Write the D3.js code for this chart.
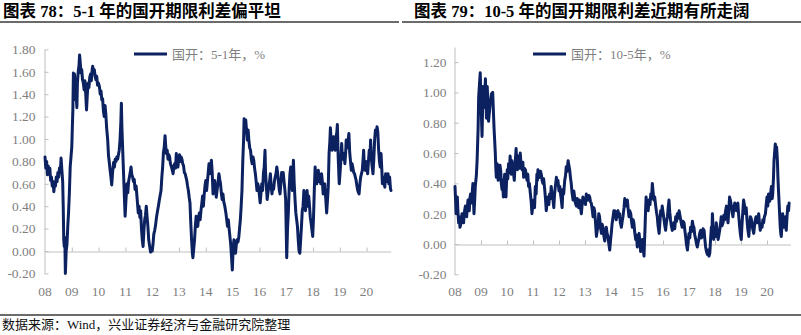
<!DOCTYPE html>
<html><head><meta charset="utf-8">
<script src="https://cdn.jsdelivr.net/npm/d3@7"></script>
<style>
body{margin:0;background:#fff;}
svg{display:block;}
</style></head><body>
<svg id="c" width="801" height="335"></svg>
<script>
// ---------- data ----------
const yearTicks = [2008,2009,2010,2011,2012,2013,2014,2015,2016,2017,2018,2019,2020];
const yearLabels = ["08","09","10","11","12","13","14","15","16","17","18","19","20"];
const yTicks51 = [-0.2,0,0.2,0.4,0.6,0.8,1.0,1.2,1.4,1.6,1.8];
const yTicks105 = [-0.2,0,0.2,0.4,0.6,0.8,1.0,1.2];
const titles = ["图表 78：5-1 年的国开期限利差偏平坦","图表 79：10-5 年的国开期限利差近期有所走阔"];
const legendNames = ["国开：5-1年，%","国开：10-5年，%"];
const sourceText = "数据来源：Wind，兴业证券经济与金融研究院整理";

// 国开 5-1年 spread, [year, %]
const spread51 = [
[2008.00,0.84],[2008.03,0.74],[2008.06,0.80],[2008.09,0.68],[2008.12,0.76],[2008.15,0.70],[2008.18,0.74],[2008.21,0.63],
[2008.24,0.66],[2008.27,0.58],[2008.30,0.62],[2008.33,0.53],[2008.36,0.60],[2008.39,0.58],[2008.42,0.66],[2008.45,0.62],
[2008.48,0.70],[2008.51,0.66],[2008.54,0.74],[2008.57,0.70],[2008.60,0.83],[2008.63,0.72],[2008.66,0.62],[2008.68,0.40],
[2008.70,0.10],[2008.72,0.04],[2008.74,0.12],[2008.76,-0.20],[2008.79,0.00],[2008.82,0.06],[2008.85,0.22],[2008.88,0.35],
[2008.91,0.52],[2008.94,0.75],[2008.97,0.84],[2009.00,0.93],[2009.02,1.10],[2009.04,1.26],[2009.06,1.59],[2009.08,1.35],
[2009.10,1.58],[2009.13,1.50],[2009.16,1.40],[2009.19,1.28],[2009.21,1.50],[2009.24,1.60],[2009.27,1.66],[2009.29,1.75],
[2009.31,1.70],[2009.34,1.59],[2009.37,1.62],[2009.40,1.53],[2009.43,1.50],[2009.46,1.44],[2009.49,1.52],[2009.52,1.40],
[2009.55,1.26],[2009.58,1.40],[2009.61,1.50],[2009.64,1.46],[2009.67,1.55],[2009.70,1.58],[2009.73,1.52],[2009.76,1.62],
[2009.78,1.65],[2009.81,1.60],[2009.84,1.62],[2009.87,1.56],[2009.90,1.53],[2009.93,1.56],[2009.96,1.48],[2009.99,1.50],
[2010.03,1.47],[2010.06,1.40],[2010.09,1.43],[2010.12,1.35],[2010.15,1.36],[2010.18,1.25],[2010.21,1.20],[2010.24,1.30],
[2010.27,1.22],[2010.30,1.10],[2010.34,0.99],[2010.37,0.85],[2010.40,0.79],[2010.43,0.72],[2010.46,0.66],[2010.49,0.59],
[2010.52,0.70],[2010.56,0.79],[2010.59,0.75],[2010.62,0.82],[2010.65,0.80],[2010.68,0.84],[2010.71,0.82],[2010.74,0.86],
[2010.77,0.90],[2010.80,0.99],[2010.83,1.15],[2010.85,1.32],[2010.87,1.10],[2010.90,0.90],[2010.93,0.70],[2010.96,0.50],
[2010.99,0.31],[2011.02,0.45],[2011.06,0.60],[2011.09,0.52],[2011.12,0.62],[2011.15,0.66],[2011.18,0.70],[2011.21,0.75],
[2011.24,0.68],[2011.27,0.66],[2011.30,0.62],[2011.33,0.64],[2011.36,0.55],[2011.40,0.58],[2011.44,0.46],[2011.48,0.34],
[2011.51,0.40],[2011.54,0.30],[2011.57,0.36],[2011.60,0.20],[2011.63,0.10],[2011.66,0.04],[2011.69,0.18],[2011.72,0.28],
[2011.75,0.32],[2011.78,0.40],[2011.81,0.30],[2011.84,0.22],[2011.87,0.10],[2011.90,0.05],[2011.94,-0.01],[2011.97,0.02],
[2012.00,0.00],[2012.03,0.06],[2012.06,0.15],[2012.09,0.18],[2012.12,0.22],[2012.16,0.30],[2012.20,0.36],[2012.23,0.40],
[2012.27,0.46],[2012.30,0.50],[2012.33,0.54],[2012.36,0.66],[2012.39,0.75],[2012.42,0.88],[2012.45,0.93],[2012.48,1.03],
[2012.50,0.95],[2012.53,0.87],[2012.56,0.90],[2012.59,0.82],[2012.62,0.86],[2012.65,0.84],[2012.68,0.78],[2012.72,0.75],
[2012.75,0.72],[2012.78,0.69],[2012.81,0.76],[2012.84,0.78],[2012.87,0.74],[2012.90,0.87],[2012.93,0.80],[2012.96,0.75],
[2012.99,0.82],[2013.02,0.86],[2013.05,0.80],[2013.08,0.84],[2013.11,0.82],[2013.14,0.78],[2013.17,0.76],[2013.20,0.70],
[2013.23,0.69],[2013.26,0.66],[2013.29,0.63],[2013.32,0.58],[2013.35,0.54],[2013.38,0.48],[2013.41,0.43],[2013.44,0.25],
[2013.47,0.10],[2013.50,-0.02],[2013.52,-0.06],[2013.55,0.02],[2013.58,0.10],[2013.61,0.22],[2013.64,0.31],[2013.67,0.25],
[2013.70,0.22],[2013.73,0.30],[2013.76,0.34],[2013.79,0.28],[2013.82,0.36],[2013.85,0.42],[2013.88,0.49],[2013.91,0.40],
[2013.94,0.50],[2013.97,0.58],[2014.00,0.63],[2014.03,0.54],[2014.06,0.62],[2014.09,0.70],[2014.12,0.78],[2014.15,0.69],
[2014.18,0.76],[2014.21,0.81],[2014.24,0.70],[2014.27,0.51],[2014.30,0.58],[2014.33,0.63],[2014.36,0.56],[2014.39,0.48],
[2014.42,0.54],[2014.46,0.62],[2014.49,0.69],[2014.52,0.64],[2014.55,0.60],[2014.58,0.52],[2014.61,0.46],[2014.64,0.51],
[2014.67,0.44],[2014.71,0.40],[2014.75,0.34],[2014.78,0.28],[2014.81,0.22],[2014.84,0.28],[2014.87,0.20],[2014.90,0.13],
[2014.93,0.06],[2014.96,-0.05],[2014.99,-0.17],[2015.02,0.02],[2015.05,0.10],[2015.08,0.04],[2015.11,-0.02],[2015.14,0.06],
[2015.17,0.10],[2015.20,0.08],[2015.23,0.12],[2015.26,0.20],[2015.29,0.28],[2015.32,0.40],[2015.35,0.54],[2015.38,0.80],
[2015.41,0.99],[2015.43,1.18],[2015.46,1.15],[2015.49,1.17],[2015.52,1.08],[2015.55,0.99],[2015.58,1.08],[2015.61,0.98],
[2015.64,0.92],[2015.67,0.90],[2015.70,0.82],[2015.73,0.78],[2015.76,0.84],[2015.79,0.81],[2015.82,0.74],[2015.85,0.69],
[2015.88,0.62],[2015.91,0.54],[2015.94,0.60],[2015.97,0.57],[2016.00,0.50],[2016.03,0.43],[2016.06,0.52],[2016.09,0.60],
[2016.12,0.54],[2016.15,0.69],[2016.18,0.75],[2016.21,0.90],[2016.23,0.70],[2016.26,0.58],[2016.29,0.46],[2016.32,0.52],
[2016.35,0.57],[2016.38,0.62],[2016.41,0.69],[2016.44,0.58],[2016.47,0.51],[2016.50,0.58],[2016.53,0.55],[2016.56,0.62],
[2016.59,0.66],[2016.62,0.69],[2016.65,0.75],[2016.68,0.70],[2016.71,0.62],[2016.74,0.55],[2016.77,0.51],[2016.80,0.60],
[2016.83,0.70],[2016.86,0.65],[2016.89,0.70],[2016.92,0.62],[2016.95,0.55],[2016.98,0.46],[2017.00,0.20],[2017.02,-0.06],
[2017.05,0.20],[2017.08,0.34],[2017.11,0.55],[2017.14,0.69],[2017.17,0.75],[2017.20,0.62],[2017.23,0.54],[2017.25,0.70],
[2017.27,0.81],[2017.30,0.60],[2017.33,0.46],[2017.36,0.34],[2017.39,0.28],[2017.42,0.22],[2017.45,0.10],[2017.48,0.00],
[2017.51,-0.02],[2017.54,0.10],[2017.57,0.22],[2017.60,0.36],[2017.63,0.40],[2017.66,0.54],[2017.69,0.44],[2017.72,0.36],
[2017.75,0.48],[2017.78,0.54],[2017.81,0.40],[2017.84,0.49],[2017.87,0.40],[2017.90,0.30],[2017.93,0.25],[2017.96,0.19],
[2017.99,0.13],[2018.02,0.30],[2018.05,0.55],[2018.08,0.75],[2018.11,0.65],[2018.14,0.60],[2018.17,0.66],[2018.20,0.72],
[2018.23,0.62],[2018.26,0.68],[2018.29,0.60],[2018.32,0.69],[2018.35,0.62],[2018.38,0.51],[2018.41,0.58],[2018.44,0.60],
[2018.47,0.49],[2018.51,0.34],[2018.54,0.45],[2018.57,0.57],[2018.60,0.87],[2018.63,0.98],[2018.65,1.10],[2018.68,0.98],
[2018.71,0.90],[2018.74,0.96],[2018.77,1.02],[2018.80,0.94],[2018.83,0.90],[2018.86,1.02],[2018.89,1.06],[2018.91,1.13],
[2018.94,0.84],[2018.98,0.60],[2019.01,0.70],[2019.04,0.81],[2019.07,0.96],[2019.10,0.82],[2019.13,0.84],[2019.16,0.87],
[2019.19,0.78],[2019.22,0.88],[2019.24,0.99],[2019.27,0.92],[2019.30,0.96],[2019.34,1.05],[2019.37,0.88],[2019.40,0.80],
[2019.43,0.72],[2019.46,0.78],[2019.49,0.74],[2019.52,0.70],[2019.55,0.69],[2019.58,0.66],[2019.61,0.63],[2019.64,0.58],
[2019.67,0.54],[2019.70,0.52],[2019.72,0.51],[2019.75,0.60],[2019.78,0.66],[2019.81,0.69],[2019.84,0.72],[2019.87,0.82],
[2019.89,0.90],[2019.92,0.74],[2019.95,0.72],[2019.98,0.80],[2020.01,0.74],[2020.04,0.69],[2020.07,0.80],[2020.10,0.90],
[2020.13,0.86],[2020.15,0.99],[2020.18,0.82],[2020.21,0.75],[2020.24,0.69],[2020.27,0.82],[2020.30,0.99],[2020.33,1.08],
[2020.36,1.05],[2020.39,1.11],[2020.42,1.06],[2020.45,0.90],[2020.48,0.80],[2020.51,0.75],[2020.54,0.87],[2020.57,0.72],
[2020.59,0.60],[2020.62,0.66],[2020.65,0.62],[2020.68,0.57],[2020.71,0.69],[2020.74,0.62],[2020.77,0.64],[2020.80,0.69],
[2020.83,0.60],[2020.86,0.66],[2020.89,0.56],[2020.91,0.54]
];

// 国开 10-5年 spread, [year, %]
const spread105 = [
[2008.00,0.38],[2008.02,0.30],[2008.04,0.20],[2008.06,0.26],[2008.09,0.31],[2008.11,0.22],[2008.14,0.14],[2008.17,0.18],
[2008.19,0.11],[2008.21,0.12],[2008.24,0.15],[2008.27,0.20],[2008.30,0.17],[2008.33,0.14],[2008.35,0.19],[2008.37,0.22],
[2008.40,0.25],[2008.42,0.20],[2008.45,0.18],[2008.47,0.24],[2008.50,0.29],[2008.52,0.25],[2008.55,0.22],[2008.57,0.30],
[2008.60,0.33],[2008.62,0.30],[2008.65,0.27],[2008.67,0.36],[2008.69,0.40],[2008.71,0.30],[2008.73,0.20],[2008.76,0.30],
[2008.78,0.38],[2008.82,0.45],[2008.85,0.55],[2008.89,0.77],[2008.91,0.97],[2008.94,1.05],[2008.97,1.13],[2009.01,0.88],
[2009.04,0.71],[2009.08,1.04],[2009.12,0.90],[2009.17,1.09],[2009.21,0.83],[2009.24,1.04],[2009.29,0.81],[2009.35,0.92],
[2009.40,0.99],[2009.45,1.00],[2009.50,0.77],[2009.55,0.60],[2009.57,0.50],[2009.59,0.44],[2009.62,0.53],[2009.64,0.51],
[2009.66,0.42],[2009.68,0.46],[2009.71,0.44],[2009.73,0.52],[2009.76,0.48],[2009.78,0.40],[2009.81,0.36],[2009.83,0.42],
[2009.86,0.31],[2009.88,0.38],[2009.91,0.46],[2009.93,0.40],[2009.96,0.31],[2009.98,0.40],[2010.01,0.49],[2010.03,0.43],
[2010.06,0.53],[2010.09,0.47],[2010.12,0.58],[2010.14,0.52],[2010.17,0.46],[2010.19,0.55],[2010.22,0.51],[2010.25,0.47],
[2010.28,0.42],[2010.31,0.52],[2010.35,0.63],[2010.37,0.55],[2010.40,0.49],[2010.42,0.58],[2010.45,0.55],[2010.48,0.50],
[2010.51,0.60],[2010.54,0.52],[2010.58,0.49],[2010.61,0.54],[2010.64,0.44],[2010.67,0.50],[2010.71,0.49],[2010.74,0.45],
[2010.77,0.42],[2010.80,0.46],[2010.83,0.38],[2010.86,0.40],[2010.90,0.33],[2010.93,0.28],[2010.96,0.20],[2010.99,0.25],
[2011.03,0.29],[2011.06,0.24],[2011.09,0.38],[2011.12,0.33],[2011.15,0.46],[2011.17,0.42],[2011.19,0.49],[2011.22,0.45],
[2011.26,0.44],[2011.29,0.48],[2011.32,0.46],[2011.35,0.42],[2011.38,0.40],[2011.41,0.43],[2011.45,0.36],[2011.48,0.30],
[2011.51,0.22],[2011.54,0.27],[2011.58,0.31],[2011.61,0.26],[2011.64,0.33],[2011.67,0.30],[2011.70,0.38],[2011.73,0.33],
[2011.77,0.29],[2011.80,0.24],[2011.83,0.33],[2011.86,0.38],[2011.90,0.44],[2011.93,0.40],[2011.96,0.42],[2012.00,0.35],
[2012.03,0.38],[2012.06,0.33],[2012.09,0.29],[2012.12,0.24],[2012.15,0.36],[2012.18,0.33],[2012.22,0.42],[2012.25,0.45],
[2012.28,0.51],[2012.31,0.48],[2012.35,0.55],[2012.38,0.52],[2012.41,0.49],[2012.44,0.44],[2012.47,0.40],[2012.50,0.34],
[2012.54,0.29],[2012.57,0.35],[2012.60,0.31],[2012.63,0.27],[2012.67,0.25],[2012.70,0.30],[2012.73,0.27],[2012.76,0.24],
[2012.79,0.29],[2012.82,0.25],[2012.86,0.20],[2012.89,0.26],[2012.92,0.31],[2012.95,0.27],[2012.99,0.29],[2013.02,0.26],
[2013.05,0.33],[2013.08,0.30],[2013.12,0.29],[2013.15,0.32],[2013.18,0.31],[2013.21,0.28],[2013.24,0.27],[2013.27,0.24],
[2013.31,0.18],[2013.34,0.24],[2013.37,0.22],[2013.40,0.15],[2013.44,0.05],[2013.47,0.09],[2013.50,0.11],[2013.53,0.20],
[2013.56,0.18],[2013.59,0.12],[2013.63,0.07],[2013.66,0.13],[2013.69,0.11],[2013.72,0.06],[2013.76,0.02],[2013.79,0.08],
[2013.82,0.11],[2013.85,0.07],[2013.88,0.05],[2013.91,0.01],[2013.95,-0.04],[2013.98,0.02],[2014.01,0.07],[2014.04,0.13],
[2014.08,0.18],[2014.11,0.22],[2014.14,0.22],[2014.17,0.19],[2014.20,0.16],[2014.23,0.21],[2014.27,0.22],[2014.30,0.18],
[2014.33,0.20],[2014.36,0.14],[2014.40,0.11],[2014.43,0.15],[2014.46,0.18],[2014.50,0.24],[2014.53,0.30],[2014.56,0.25],
[2014.60,0.28],[2014.63,0.29],[2014.66,0.23],[2014.69,0.18],[2014.72,0.22],[2014.76,0.20],[2014.79,0.15],[2014.82,0.11],
[2014.85,0.16],[2014.88,0.14],[2014.91,0.08],[2014.95,0.03],[2014.98,0.06],[2015.01,-0.02],[2015.04,0.03],[2015.08,0.07],
[2015.11,0.02],[2015.14,-0.05],[2015.17,0.01],[2015.21,0.03],[2015.24,-0.03],[2015.27,-0.08],[2015.29,0.02],[2015.31,0.11],
[2015.33,0.22],[2015.35,0.31],[2015.38,0.24],[2015.40,0.27],[2015.43,0.22],[2015.46,0.29],[2015.50,0.26],[2015.53,0.33],
[2015.56,0.30],[2015.59,0.40],[2015.62,0.34],[2015.65,0.29],[2015.68,0.31],[2015.72,0.25],[2015.75,0.21],[2015.78,0.18],
[2015.81,0.12],[2015.85,0.07],[2015.88,0.14],[2015.91,0.22],[2015.94,0.19],[2015.97,0.25],[2016.01,0.20],[2016.04,0.16],
[2016.07,0.12],[2016.10,0.09],[2016.13,0.14],[2016.17,0.18],[2016.20,0.24],[2016.23,0.29],[2016.26,0.21],[2016.29,0.16],
[2016.32,0.12],[2016.36,0.09],[2016.39,0.12],[2016.42,0.14],[2016.45,0.10],[2016.49,0.18],[2016.52,0.15],[2016.55,0.20],
[2016.58,0.17],[2016.62,0.22],[2016.65,0.19],[2016.68,0.16],[2016.71,0.13],[2016.74,0.11],[2016.77,0.15],[2016.81,0.14],
[2016.84,0.09],[2016.87,0.05],[2016.90,0.00],[2016.94,-0.04],[2016.97,0.02],[2017.00,0.07],[2017.03,0.04],[2017.06,0.11],
[2017.09,0.08],[2017.13,0.15],[2017.16,0.12],[2017.19,0.11],[2017.22,0.06],[2017.26,0.03],[2017.29,0.00],[2017.32,-0.02],
[2017.35,0.01],[2017.38,0.03],[2017.41,0.07],[2017.45,0.09],[2017.48,0.04],[2017.51,0.05],[2017.54,0.10],[2017.58,0.09],
[2017.61,0.03],[2017.64,-0.02],[2017.67,-0.05],[2017.71,-0.07],[2017.74,-0.04],[2017.77,-0.08],[2017.80,-0.06],[2017.83,0.03],
[2017.86,0.11],[2017.88,0.06],[2017.90,0.20],[2017.93,0.10],[2017.95,0.03],[2017.97,0.06],[2017.99,0.09],[2018.02,0.05],
[2018.05,0.14],[2018.08,0.08],[2018.12,0.03],[2018.15,0.06],[2018.18,0.09],[2018.21,0.13],[2018.24,0.18],[2018.27,0.12],
[2018.31,0.14],[2018.34,0.19],[2018.37,0.16],[2018.40,0.21],[2018.44,0.25],[2018.47,0.19],[2018.50,0.14],[2018.53,0.22],
[2018.56,0.31],[2018.59,0.29],[2018.63,0.25],[2018.66,0.21],[2018.69,0.18],[2018.72,0.23],[2018.76,0.27],[2018.79,0.26],
[2018.82,0.22],[2018.85,0.25],[2018.88,0.27],[2018.91,0.19],[2018.95,0.11],[2018.98,0.06],[2019.01,0.03],[2019.03,0.10],
[2019.05,0.16],[2019.08,0.24],[2019.10,0.29],[2019.13,0.26],[2019.17,0.20],[2019.20,0.24],[2019.23,0.16],[2019.26,0.10],
[2019.30,0.05],[2019.33,0.12],[2019.36,0.18],[2019.39,0.17],[2019.42,0.14],[2019.45,0.10],[2019.49,0.07],[2019.52,0.12],
[2019.55,0.16],[2019.58,0.18],[2019.62,0.14],[2019.65,0.17],[2019.68,0.20],[2019.71,0.14],[2019.74,0.09],[2019.77,0.13],
[2019.81,0.11],[2019.84,0.16],[2019.87,0.14],[2019.90,0.18],[2019.94,0.20],[2019.97,0.26],[2020.00,0.31],[2020.03,0.25],
[2020.06,0.33],[2020.09,0.28],[2020.12,0.29],[2020.15,0.35],[2020.17,0.38],[2020.20,0.30],[2020.22,0.33],[2020.25,0.44],
[2020.27,0.55],[2020.30,0.62],[2020.32,0.66],[2020.35,0.60],[2020.37,0.64],[2020.40,0.55],[2020.42,0.44],[2020.44,0.36],
[2020.46,0.29],[2020.49,0.18],[2020.51,0.11],[2020.53,0.07],[2020.55,0.05],[2020.58,0.14],[2020.60,0.20],[2020.63,0.15],
[2020.65,0.11],[2020.68,0.14],[2020.71,0.18],[2020.74,0.09],[2020.77,0.18],[2020.80,0.25],[2020.83,0.22],[2020.85,0.27]
];

// ---------- drawing ----------
const svg = d3.select("#c");
const serif = "'Liberation Serif','Noto Sans CJK SC',serif";
const lineColor = "#0b2160";
const axisColor = "#bfbfbf";
const labelColor = "#7f7f7f";
const fmt = d3.formatLocale({decimal:".",thousands:",",grouping:[3],currency:["",""],minus:"-"}).format(".2f");

// header / footer rules
svg.append("line").attr("x1",0).attr("x2",399).attr("y1",22).attr("y2",22).attr("stroke","#3a3a3a").attr("stroke-width",1.5);
svg.append("line").attr("x1",402).attr("x2",801).attr("y1",22).attr("y2",22).attr("stroke","#3a3a3a").attr("stroke-width",1.5);
svg.append("line").attr("x1",0).attr("x2",801).attr("y1",315).attr("y2",315).attr("stroke","#3a3a3a").attr("stroke-width",1.5);

svg.append("text").attr("x",2).attr("y",329).attr("font-family",serif).attr("font-size",13).attr("fill","#111").text(sourceText);

const panels = [
  {title:titles[0], titleX:3, data:spread51, yTicks:yTicks51, yDom:[-0.2,1.8], yRange:[273.4,49.4],
   xRange:[45,390.7], axisX:44.5, pad:9, legendX:134, legendName:legendNames[0]},
  {title:titles[1], titleX:414, data:spread105, yTicks:yTicks105, yDom:[-0.2,1.3], yRange:[274.3,47],
   xRange:[455,790.4], axisX:454.5, pad:8, legendX:533, legendName:legendNames[1]}
];

panels.forEach(p => {
  svg.append("text").attr("x",p.titleX).attr("y",17).attr("font-family",serif)
    .attr("font-weight","bold").attr("font-size",16.5).attr("fill","#000").text(p.title);

  const x = d3.scaleLinear().domain([2008,2020.9]).range(p.xRange);
  const y = d3.scaleLinear().domain(p.yDom).range(p.yRange);

  // y axis
  const ya = svg.append("g").attr("transform",`translate(${p.axisX},0)`)
    .call(d3.axisLeft(y).tickValues(p.yTicks).tickSizeInner(-4).tickSizeOuter(0).tickPadding(p.pad).tickFormat(fmt));
  ya.select(".domain").attr("stroke",axisColor);
  ya.selectAll(".tick line").attr("stroke",axisColor);
  ya.selectAll("text").attr("fill",labelColor).attr("font-family",serif).attr("font-size",13.5);

  // x axis along zero line
  const xa = svg.append("g").attr("transform",`translate(0,${Math.round(y(0))+0.5})`)
    .call(d3.axisTop(x).tickValues(yearTicks.slice(1)).tickSizeInner(4).tickSizeOuter(0).tickFormat(""));
  xa.select(".domain").attr("stroke",axisColor);
  xa.selectAll(".tick line").attr("stroke",axisColor);

  // year labels at bottom
  svg.append("g").selectAll("text").data(yearTicks).join("text")
    .attr("x",d => x(d)).attr("y",296).attr("text-anchor","middle")
    .attr("font-family",serif).attr("font-size",13.5).attr("fill",labelColor)
    .text((d,i) => yearLabels[i]);

  // series line
  svg.append("path").datum(p.data)
    .attr("fill","none").attr("stroke",lineColor).attr("stroke-width",3)
    .attr("stroke-linejoin","round").attr("stroke-linecap","round")
    .attr("d", d3.line().x(d => x(d[0])).y(d => y(d[1])));

  // legend
  svg.append("line").attr("x1",p.legendX).attr("x2",p.legendX+33).attr("y1",54).attr("y2",54)
    .attr("stroke",lineColor).attr("stroke-width",3);
  svg.append("text").attr("x",p.legendX+38).attr("y",58.5).attr("font-family",serif)
    .attr("font-size",13).attr("fill",labelColor).text(p.legendName);
});
</script>
</body></html>
